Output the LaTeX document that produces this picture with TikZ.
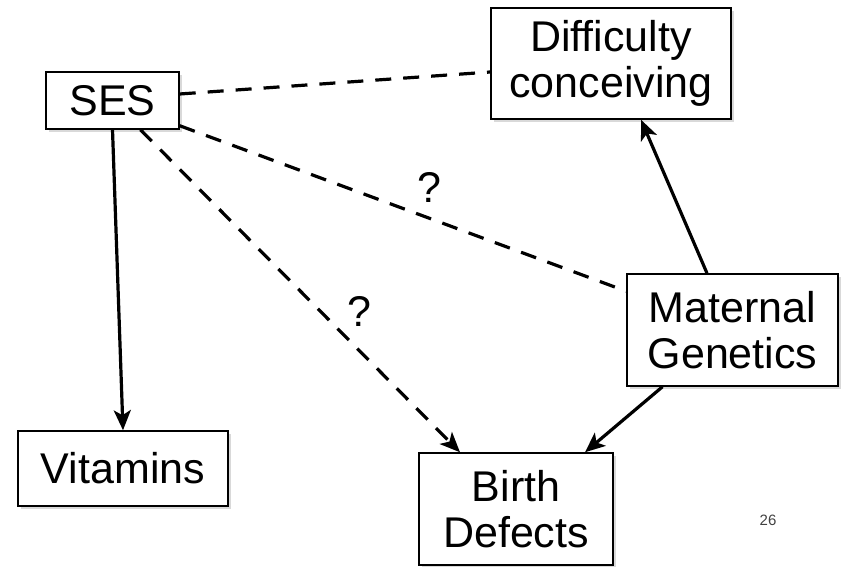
\documentclass[tikz,border=0pt]{standalone}
\usepackage{fontspec}
\setmainfont{Liberation Sans}
\usetikzlibrary{arrows.meta,shadows,positioning}
\tikzstyle{boxNode}=[shape = rectangle, draw, line width = 1.5pt, fill = white, align = center, inner sep = 0pt, font = \fontsize{43}{46}\selectfont, drop shadow = {shadow xshift = 3pt, shadow yshift = -3.5pt, opacity = 0.3}]
\tikzstyle{assocEdge}=[line width = 3.2pt, dash pattern = on 16pt off 12pt]
\tikzstyle{causeEdge}=[line width = 3.2pt, -{Stealth[length = 20pt, width = 17pt, inset = 5pt]}]

\begin{document}
\begin{tikzpicture}[x = 1pt, y = 1pt]
\tikzstyle{qmark}=[inner sep = 2pt, font = \fontsize{43}{46}\selectfont]
\tikzstyle{pageNum}=[inner sep = 0pt, text = black!75, font = \fontsize{15}{17}\selectfont]
\useasboundingbox (0,0) rectangle (844,567);
\node[boxNode, minimum width = 133pt, minimum height = 57pt] (ses) at (112.5,466.5) {SES};
\node[boxNode, minimum width = 240pt, minimum height = 111pt] (diff) at (611,503.5) {Difficulty\\conceiving};
\node[boxNode, minimum width = 211pt, minimum height = 112pt] (mat) at (732.5,237) {Maternal\\Genetics};
\node[boxNode, minimum width = 210pt, minimum height = 75pt] (vit) at (123,98.5) {Vitamins};
\node[boxNode, minimum width = 194pt, minimum height = 112pt] (birth) at (516,58) {Birth\\Defects};
\node[pageNum] (num) at (768,47) {26};
\draw[assocEdge] ([yshift = 6.5pt]ses.east) -- ([yshift = -8.5pt]diff.west);
\draw[assocEdge] ([yshift = 4pt]ses.south east) -- node[qmark, pos = 0.56, above = 12pt] {?} ([yshift = -18pt]mat.north west);
\draw[assocEdge, -{Stealth[length = 20pt, width = 17pt, inset = 5pt]}] ([xshift = 28pt]ses.south) -- node[qmark, pos = 0.62, above right = 0pt and 5pt] {?} ([xshift = -56pt]birth.north);
\draw[causeEdge] (ses.south) -- (vit.north);
\draw[causeEdge] ([xshift = -70pt]mat.south) -- ([xshift = 69pt]birth.north);
\draw[causeEdge] ([xshift = -25.5pt]mat.north) -- ([xshift = 30pt]diff.south);
\end{tikzpicture}
\end{document}
